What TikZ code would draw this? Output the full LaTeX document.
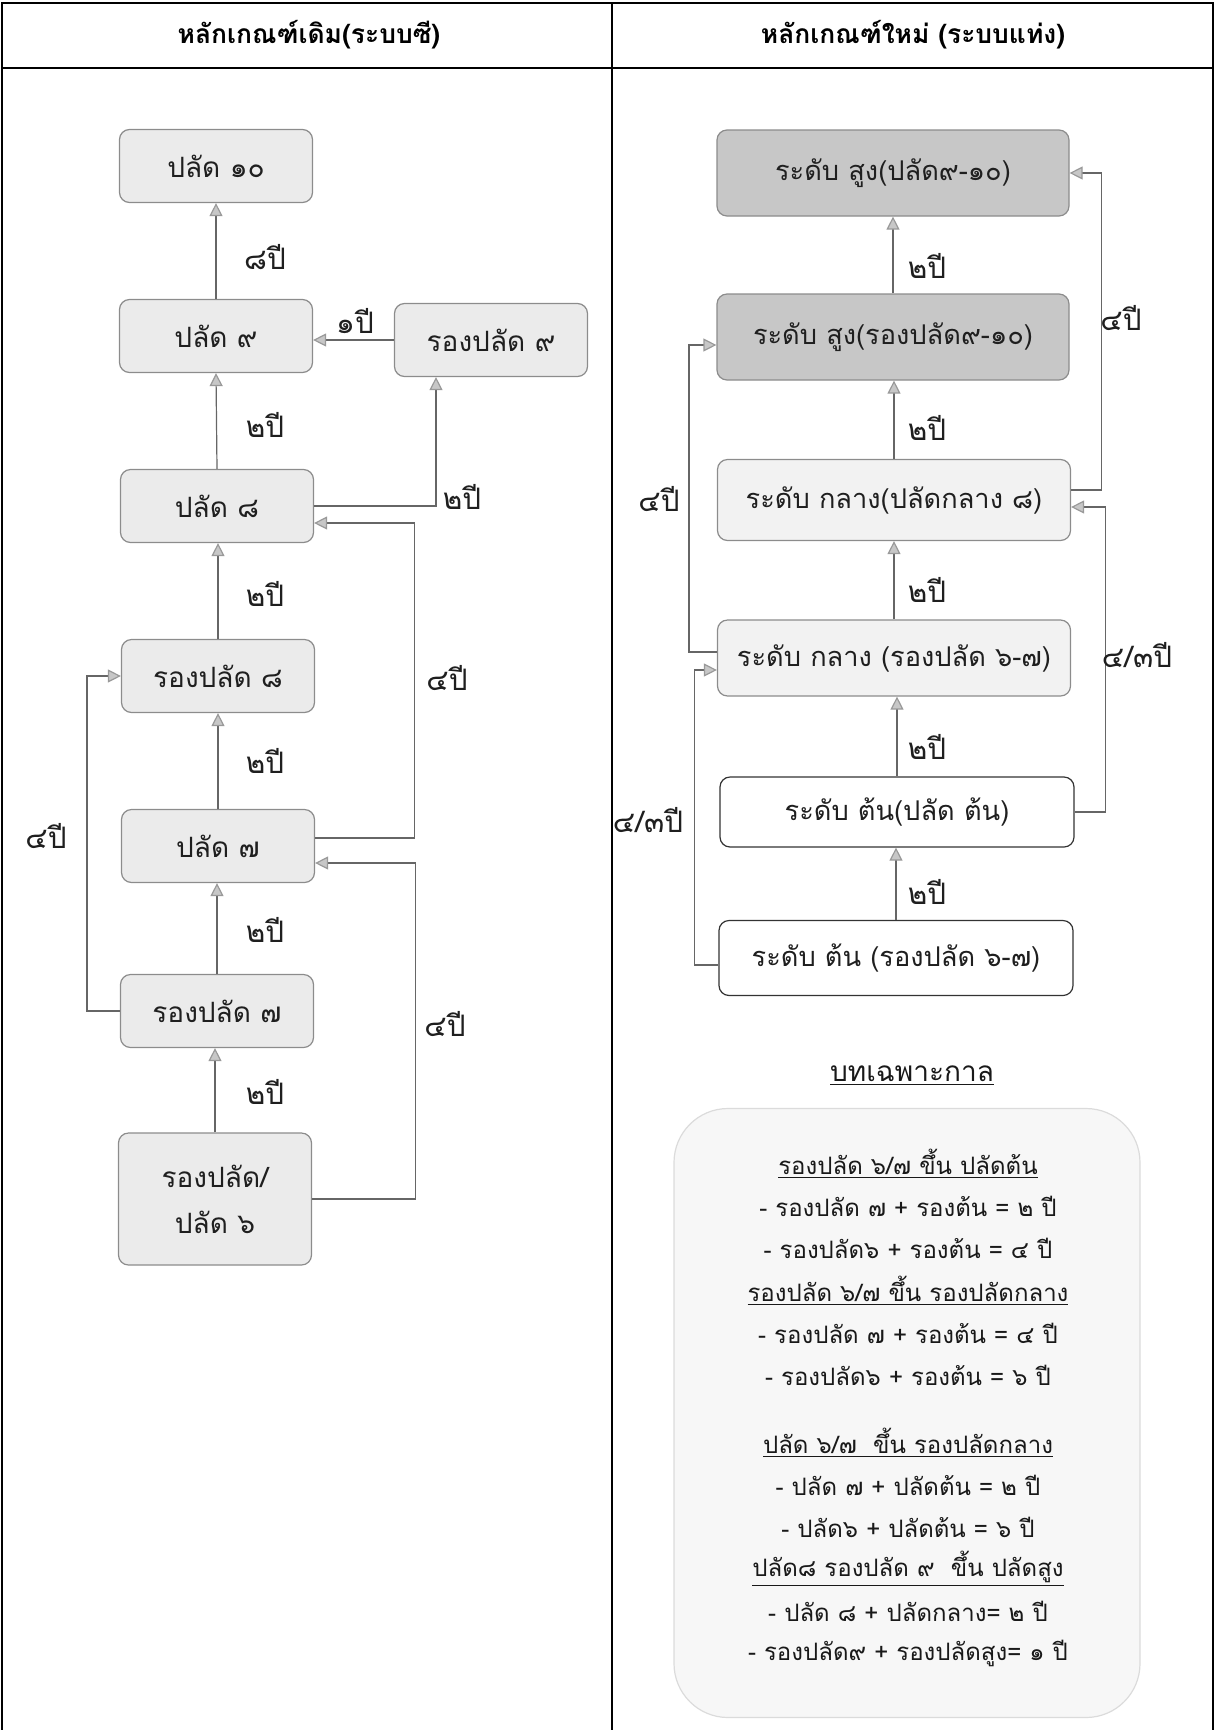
\documentclass[tikz,border=0pt]{standalone}
\usepackage{fontspec}
\setmainfont[Script=Thai]{Loma}
\usetikzlibrary{arrows.meta}
\newcommand\boxfont{\fontsize{14}{18}\selectfont}
\newcommand\bandfont{\fontsize{13.6}{17}\selectfont}
\newcommand\yrfont{\fontsize{14.8}{18}\selectfont}
\newcommand\notefont{\fontsize{12}{15}\selectfont}
\begin{document}
\begin{tikzpicture}[x=0.5pt,y=-0.5pt,
  box/.style={rectangle, rounded corners=5pt, draw=black!45, line width=0.6pt,
    fill=black!8, text=black!88, font=\boxfont, align=center, inner sep=2pt},
  leftbox/.style={box, minimum width=96.5pt, minimum height=36.5pt},
  band/.style={box, font=\bandfont},
  topbox/.style={band, fill=black!22, minimum width=176pt, minimum height=43pt},
  midbox/.style={band, fill=black!5, minimum width=176.5pt, minimum height=38pt},
  lowbox/.style={band, fill=white, draw=black!80, minimum width=177pt, minimum height=36pt},
  conn/.style={draw=black!60, line width=0.6pt},
  arr/.style={conn, -{Triangle[length=6.5pt, width=6.5pt, fill=black!22, color=black!40]}},
  yrs/.style={font=\yrfont, text=black!88, inner sep=1pt},
  hdr/.style={font=\fontsize{13.2}{16}\selectfont\bfseries, text=black},
  note/.style={font=\notefont, text=black!90, inner sep=1pt},
  frame/.style={draw=black, line width=1pt}
]
\useasboundingbox (0,0) rectangle (1215,1730);

% table frame
\draw[frame] (2,1730) -- (2,3) -- (1213,3) -- (1213,1730);
\draw[frame] (2,68) -- (1213,68);
\draw[frame] (612,3) -- (612,1730);
\node[hdr] (h1) at (309,35) {หลักเกณฑ์เดิม(ระบบซี)};
\node[hdr] (h2) at (913,35) {หลักเกณฑ์ใหม่ (ระบบแท่ง)};

% ---- old system (C levels) ----
\node[leftbox] (P10) at (216,166) {ปลัด ๑๐};
\node[leftbox] (P9)  at (216,336) {ปลัด ๙};
\node[leftbox] (RP9) at (491,340) {รองปลัด ๙};
\node[leftbox] (P8)  at (217,506) {ปลัด ๘};
\node[leftbox] (RP8) at (218,676) {รองปลัด ๘};
\node[leftbox] (P7)  at (218,846) {ปลัด ๗};
\node[leftbox] (RP7) at (217,1011) {รองปลัด ๗};
\node[leftbox, minimum height=66pt] (P6) at (215,1199) {รองปลัด/\\[5pt]ปลัด ๖};

\draw[arr] (P9.north) -- (P10.south);
\draw[arr] (RP9.west) -- (RP9.west -| P9.east);
\draw[arr] (P8.north) -- (P9.south);
\draw[arr] (P8.east) -| ([xshift=-27.5pt]RP9.south);
\draw[arr] ([yshift=4pt]P7.east) -- ++(99,0) |- ([yshift=-8.5pt]P8.east);
\draw[arr] (RP8.north) -- (RP8.north |- P8.south);
\draw[arr] (P7.north) -- (RP8.south);
\draw[arr] (RP7.north) -- (RP7.north |- P7.south);
\draw[arr] (RP7.west) -- ++(-33,0) |- (RP8.west);
\draw[arr] (P6.north) -- (P6.north |- RP7.south);
\draw[arr] (P6.east) -- ++(103,0) |- ([yshift=-8.5pt]P7.east);

\node[yrs] (y1)  at (265,257)  {๘ปี};
\node[yrs] (y2)  at (355,321)  {๑ปี};
\node[yrs] (y3)  at (265,425)  {๒ปี};
\node[yrs] (y4)  at (462,497)  {๒ปี};
\node[yrs] (y5)  at (447,678)  {๔ปี};
\node[yrs] (y6)  at (265,594)  {๒ปี};
\node[yrs] (y7)  at (265,761)  {๒ปี};
\node[yrs] (y8)  at (265,930)  {๒ปี};
\node[yrs] (y9)  at (46,836)   {๔ปี};
\node[yrs] (y10) at (265,1092) {๒ปี};
\node[yrs] (y11) at (445,1024) {๔ปี};

% ---- new system (broad bands) ----
\node[topbox] (S1) at (893,173) {ระดับ สูง(ปลัด๙-๑๐)};
\node[topbox] (S2) at (893,337) {ระดับ สูง(รองปลัด๙-๑๐)};
\node[midbox, minimum height=40.5pt] (M1) at (894,500) {ระดับ กลาง(ปลัดกลาง ๘)};
\node[midbox] (M2) at (894,658) {ระดับ กลาง (รองปลัด ๖-๗)};
\node[lowbox, minimum height=35pt] (L1) at (897,812) {ระดับ ต้น(ปลัด ต้น)};
\node[lowbox, minimum height=37.5pt] (L2) at (896,958) {ระดับ ต้น (รองปลัด ๖-๗)};

\draw[arr] (S2.north) -- (S2.north |- S1.south);
\draw[arr] (M1.north) -- (M1.north |- S2.south);
\draw[arr] (M2.north) -- (M2.north |- M1.south);
\draw[arr] (L1.north) -- (L1.north |- M2.south);
\draw[arr] (L2.north) -- (L2.north |- L1.south);
\draw[arr] ([yshift=5pt]M1.east) -- ++(30,0) |- (S1.east);
\draw[arr] (L1.east) -- ++(31,0) |- ([yshift=-3.5pt]M1.east);
\draw[arr] ([yshift=3pt]M2.west) -- ++(-28,0) |- ([yshift=-4pt]S2.west);
\draw[arr] ([yshift=-3.5pt]L2.west) -- ++(-24,0) |- ([yshift=-6pt]M2.west);

\node[yrs] (z1) at (927,266)  {๒ปี};
\node[yrs] (z2) at (927,428)  {๒ปี};
\node[yrs] (z3) at (927,590)  {๒ปี};
\node[yrs] (z4) at (927,747)  {๒ปี};
\node[yrs] (z5) at (927,892)  {๒ปี};
\node[yrs] (z6) at (1121,318) {๔ปี};
\node[yrs] (z7) at (1137,655) {๔/๓ปี};
\node[yrs] (z8) at (659,499)  {๔ปี};
\node[yrs] (z9) at (648,820)  {๔/๓ปี};

% ---- transitional provisions ----
\node[note, font=\fontsize{14}{17}\selectfont] (tt) at (912,1076) {\underline{บทเฉพาะกาล}};
\node[rectangle, rounded corners=27pt, draw=black!14, fill=black!3, line width=0.6pt,
      minimum width=233pt, minimum height=304.5pt] (tp) at (907,1413) {};
\node[note] (n1)  at (908,1164) {\underline{รองปลัด ๖/๗ ขึ้น ปลัดต้น}};
\node[note] (n2)  at (908,1206) {- รองปลัด ๗ + รองต้น = ๒ ปี};
\node[note] (n3)  at (908,1248) {- รองปลัด๖ + รองต้น = ๔ ปี};
\node[note] (n4)  at (908,1291) {\underline{รองปลัด ๖/๗ ขึ้น รองปลัดกลาง}};
\node[note] (n5)  at (908,1333) {- รองปลัด ๗ + รองต้น = ๔ ปี};
\node[note] (n6)  at (908,1375) {- รองปลัด๖ + รองต้น = ๖ ปี};
\node[note] (n7)  at (908,1443) {\underline{ปลัด ๖/๗ \ ขึ้น รองปลัดกลาง}};
\node[note] (n8)  at (908,1485) {- ปลัด ๗ + ปลัดต้น = ๒ ปี};
\node[note] (n9)  at (908,1527) {- ปลัด๖ + ปลัดต้น = ๖ ปี};
\node[note] (n10) at (908,1569) {\underline{ปลัด๘ รองปลัด ๙ \ ขึ้น ปลัดสูง}};
\node[note] (n11) at (908,1611) {- ปลัด ๘ + ปลัดกลาง= ๒ ปี};
\node[note] (n12) at (908,1653) {- รองปลัด๙ + รองปลัดสูง= ๑ ปี};
\end{tikzpicture}
\end{document}
